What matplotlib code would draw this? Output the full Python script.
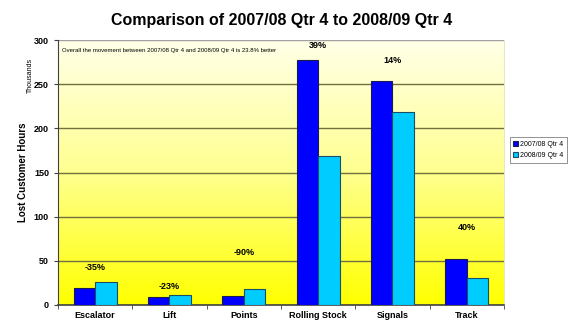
import numpy as np
import matplotlib.pyplot as plt
from matplotlib.colors import LinearSegmentedColormap

categories = ['Escalator', 'Lift', 'Points', 'Rolling Stock', 'Signals', 'Track']
q4_0708 = [19, 9, 10, 277, 254, 52]
q4_0809 = [26, 11, 18, 169, 218, 31]
pct_labels = ['-35%', '-23%', '-90%', '39%', '14%', '40%']
pct_y = [43, 21.5, 59, 294, 277, 88]

plt.rcParams['font.family'] = ['Liberation Sans', 'DejaVu Sans']

fig = plt.figure(figsize=(5.68, 3.2), dpi=100)
ax = fig.add_axes([58 / 568, 1 - 305 / 320, 446 / 568, 265 / 320])

# gradient background, pale cream at top to yellow at bottom
cmap = LinearSegmentedColormap.from_list('bg', ['#ffff00', '#ffff90', '#ffffe8'])
grad = np.linspace(0, 1, 256).reshape(-1, 1)
ax.imshow(grad, aspect='auto', cmap=cmap, origin='lower',
          extent=[-0.5, 5.5, 0, 300], zorder=0)

x = np.arange(len(categories))
w = 0.29
ax.bar(x - w / 2, q4_0708, w, color='#0000ff', edgecolor='#1a1a4d',
       linewidth=0.8, label='2007/08 Qtr 4', zorder=3)
ax.bar(x + w / 2, q4_0809, w, color='#00ccff', edgecolor='#1a4d66',
       linewidth=0.8, label='2008/09 Qtr 4', zorder=3)

for xi, t, yv in zip(x, pct_labels, pct_y):
    ax.text(xi, yv, t, ha='center', va='center', fontsize=6.5,
            fontweight='bold', zorder=4)

ax.set_xlim(-0.5, 5.5)
ax.set_ylim(0, 300)
ax.set_yticks(range(0, 301, 50))
for v in range(50, 300, 50):
    ax.axhline(v, color='#707040', linewidth=1, zorder=1)
ax.axhline(300, color='#a0a0a0', linewidth=1, zorder=1)

ax.set_xticks(np.arange(-0.5, 6, 1), minor=True)
ax.set_xticks(x)
ax.set_xticklabels(categories, fontsize=6.5, fontweight='bold')
ax.tick_params(axis='x', which='major', length=0, pad=4)
ax.tick_params(axis='x', which='minor', length=3, color='#404040')
ax.tick_params(axis='y', labelsize=6.5, length=3, color='#404040')
for lbl in ax.get_yticklabels():
    lbl.set_fontweight('bold')

ax.spines['top'].set_visible(False)
ax.spines['right'].set_color('#e8e8c0')
ax.spines['left'].set_color('#404040')
ax.spines['bottom'].set_color('#404040')
ax.spines['bottom'].set_linewidth(1.2)

ax.set_ylabel('Lost Customer Hours', fontsize=7, fontweight='bold', labelpad=4)
fig.text(30 / 568, 1 - 75 / 320, 'Thousands', rotation=90, fontsize=5,
         ha='center', va='center')
ax.text(0.01, 0.97, 'Overall the movement between 2007/08 Qtr 4 and 2008/09 Qtr 4 is 23.8% better',
        transform=ax.transAxes, fontsize=4.3, va='top', ha='left', zorder=4)

fig.suptitle('Comparison of 2007/08 Qtr 4 to 2008/09 Qtr 4', x=282 / 568, y=1 - 20 / 320,
             fontsize=11.5, fontweight='bold', va='center')

leg = fig.legend(loc='center left', bbox_to_anchor=(510 / 568, 1 - 150 / 320),
                 fontsize=5, frameon=True, fancybox=False, edgecolor='#606060',
                 handlelength=0.7, handleheight=0.7, handletextpad=0.3,
                 borderpad=0.5, labelspacing=0.6, borderaxespad=0)
leg.get_frame().set_linewidth(0.6)

fig.savefig('out.png', dpi=100)
